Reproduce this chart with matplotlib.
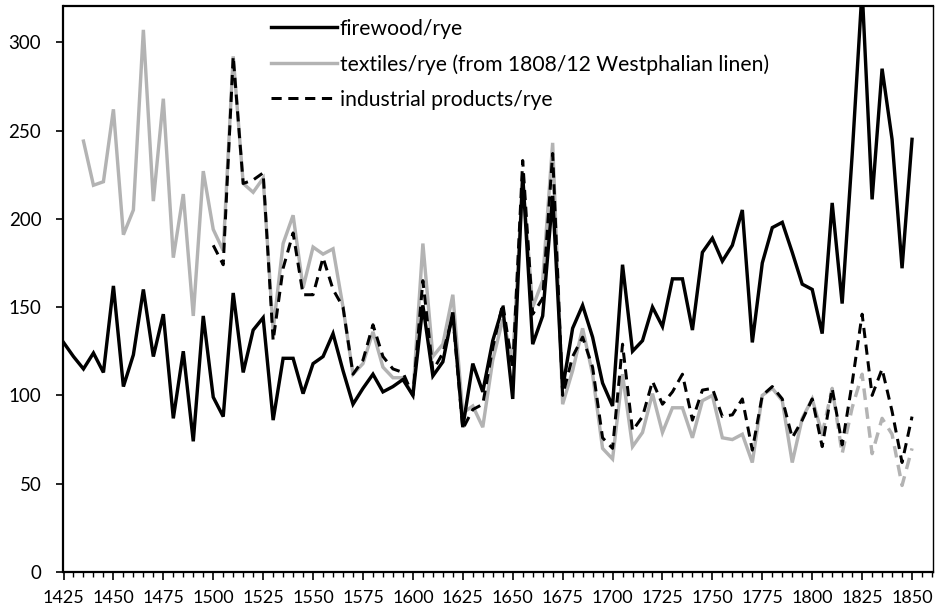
import numpy as np
import matplotlib
matplotlib.use("Agg")
import matplotlib.pyplot as plt
from matplotlib.lines import Line2D
from matplotlib.ticker import MultipleLocator

years = list(range(1425, 1851, 5))

firewood = [130, 122, 115, 124, 113, 162, 105, 123, 160, 122,
            146, 87, 125, 74, 145, 99, 88, 158, 113, 137,
            144, 86, 121, 121, 101, 118, 122, 135, 114, 95,
            104, 112, 102, 105, 109, 100, 151, 111, 119, 147,
            82, 118, 102, 131, 150, 98, 225, 129, 145, 213,
            104, 138, 151, 133, 107, 94, 174, 125, 131, 150,
            139, 166, 166, 137, 181, 189, 176, 185, 205, 130,
            175, 195, 198, 181, 163, 160, 135, 209, 152, 236,
            330, 211, 285, 245, 172, 245]

textiles = [None, None, 244, 219, 221, 262, 191, 205, 307, 210,
            268, 178, 214, 145, 227, 194, 182, 292, 220, 215,
            223, 137, 186, 202, 161, 184, 180, 183, 150, 112,
            118, 136, 116, 110, 110, 100, 186, 122, 129, 157,
            90, 94, 82, 120, 143, 120, 222, 150, 165, 243,
            95, 114, 138, 112, 70, 64, 112, 71, 79, 101,
            79, 93, 93, 76, 97, 100, 76, 75, 78, 62,
            100, 104, 97, 62, 87, 98, 78, 104, 67, 93,
            112, 67, 87, 78, 49, 70]

industrial = [None] * 15 + [185, 174, 292, 220, 222,
              226, 131, 172, 192, 157, 157, 178, 160, 150, 112,
              120, 140, 122, 115, 113, 100, 165, 114, 124, 145,
              81, 92, 95, 127, 152, 115, 233, 146, 155, 237,
              100, 122, 133, 116, 76, 70, 129, 80, 88, 108,
              95, 102, 112, 86, 103, 104, 88, 89, 98, 69,
              100, 105, 98, 76, 86, 98, 71, 104, 72, 107,
              146, 100, 115, 91, 62, 88]

labels = ["firewood/rye",
          "textiles/rye (from 1808/12 Westphalian linen)",
          "industrial products/rye"]

switch_year = 1805

x = np.array(years, dtype=float)
fw = np.array(firewood, dtype=float)
tx = np.array([np.nan if v is None else v for v in textiles], dtype=float)
ind = np.array([np.nan if v is None else v for v in industrial], dtype=float)

plt.rcParams['font.family'] = ['Lato', 'DejaVu Sans']

fig = plt.figure(figsize=(9.39, 6.10), dpi=100)
ax = fig.add_axes([63.5/939, 1-572/610, (933-63.5)/939, (572-6)/610])

gray = '#b3b3b3'
lw = 3.4 * 0.72
lwd = 3.0 * 0.72
dash = (0, (3.4, 2.2))

tx_solid = np.where(x <= switch_year, tx, np.nan)
tx_dash = np.where(x >= switch_year, tx, np.nan)

ax.plot(x, tx_solid, color=gray, lw=lw, solid_joinstyle='miter', zorder=2)
ax.plot(x, tx_dash, color=gray, lw=lw, linestyle=dash, zorder=2)
ax.plot(x, ind, color='black', lw=lwd, linestyle=dash, zorder=3)
ax.plot(x, fw, color='black', lw=lw, solid_joinstyle='miter', zorder=4)

ax.set_xlim(1425, 1860.5)
ax.set_ylim(0, 320.5)
ax.xaxis.set_minor_locator(MultipleLocator(5))
ax.yaxis.set_major_locator(MultipleLocator(50))
ax.set_xticks(list(range(1425, 1851, 25)))

ax.tick_params(axis='x', which='major', direction='out', length=6, width=1.2,
               labelsize=13, pad=7)
ax.tick_params(axis='x', which='minor', direction='out', length=3.5, width=1.0)
ax.tick_params(axis='y', which='major', direction='out', length=5, width=1.2,
               labelsize=13.5, pad=11)

for side in ['left', 'bottom', 'top']:
    ax.spines[side].set_linewidth(1.6)
ax.spines['right'].set_linewidth(1.0)

handles = [Line2D([], [], color='black', lw=lw),
           Line2D([], [], color=gray, lw=lw),
           Line2D([], [], color='black', lw=lwd, linestyle=dash)]
ax.legend(handles, labels, loc='upper left', bbox_to_anchor=(0.234, 0.985),
          frameon=False, fontsize=15.2, handlelength=3.1, handletextpad=0.15,
          labelspacing=0.72, borderaxespad=0.0, borderpad=0.2)

fig.savefig('out.png', dpi=100)
